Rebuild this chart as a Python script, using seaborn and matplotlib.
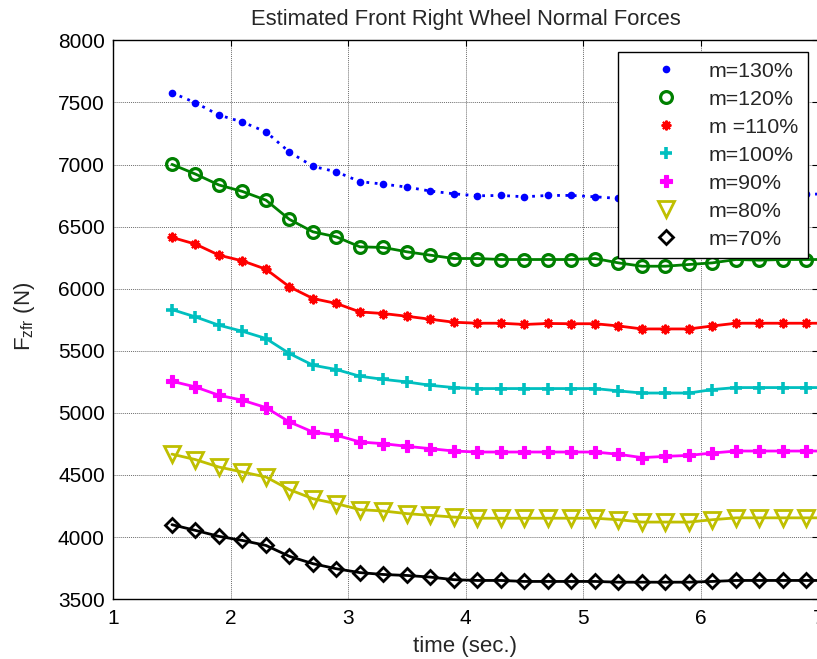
import numpy as np
import pandas as pd
import matplotlib
matplotlib.use("Agg")
import matplotlib.pyplot as plt
from matplotlib.lines import Line2D
import seaborn as sns

# Sample times (s): marker samples every 0.2 s plus the end of the record
t = [1.5, 1.7, 1.9, 2.1, 2.3, 2.5, 2.7, 2.9, 3.1, 3.3, 3.5, 3.7, 3.9, 4.1,
     4.3, 4.5, 4.7, 4.9, 5.1, 5.3, 5.5, 5.7, 5.9, 6.1, 6.3, 6.5, 6.7, 6.9, 7.0]

# Estimated front-right normal force F_zfr (N) for each vehicle mass ratio
m130 = [7578, 7497, 7398, 7342, 7263, 7100, 6985, 6941, 6862, 6842, 6818, 6786,
        6764, 6748, 6751, 6740, 6751, 6751, 6740, 6727, 6712, 6712, 6718, 6735,
        6755, 6755, 6757, 6760, 6762]
m120 = [7001, 6923, 6835, 6783, 6713, 6558, 6458, 6417, 6337, 6332, 6297, 6270,
        6243, 6243, 6235, 6235, 6235, 6235, 6243, 6208, 6181, 6181, 6195, 6208,
        6235, 6230, 6235, 6235, 6235]
m110 = [6413, 6359, 6270, 6224, 6157, 6015, 5921, 5881, 5813, 5800, 5778, 5754,
        5730, 5722, 5722, 5712, 5720, 5718, 5718, 5700, 5676, 5676, 5676, 5700,
        5722, 5722, 5722, 5722, 5722]
m100 = [5832, 5773, 5706, 5657, 5599, 5478, 5384, 5349, 5295, 5270, 5249, 5222,
        5204, 5196, 5196, 5196, 5196, 5196, 5196, 5177, 5160, 5160, 5160, 5188,
        5204, 5204, 5204, 5204, 5204]
m90 = [5255, 5209, 5142, 5102, 5043, 4927, 4846, 4820, 4766, 4752, 4731, 4712,
       4693, 4685, 4685, 4685, 4685, 4685, 4685, 4667, 4640, 4650, 4658, 4677,
       4693, 4693, 4693, 4693, 4693]
m80 = [4668, 4624, 4564, 4524, 4484, 4382, 4309, 4269, 4221, 4210, 4189, 4175,
       4161, 4152, 4152, 4152, 4152, 4152, 4152, 4140, 4121, 4121, 4121, 4140,
       4155, 4155, 4155, 4155, 4155]
m70 = [4100, 4054, 4006, 3973, 3933, 3845, 3786, 3745, 3714, 3699, 3691, 3678,
       3657, 3651, 3651, 3643, 3643, 3643, 3643, 3637, 3637, 3637, 3637, 3643,
       3651, 3651, 3651, 3651, 3651]

labels = ["m=130%", "m=120%", "m =110%", "m=100%", "m=90%", "m=80%", "m=70%"]
x_ticks = [1, 2, 3, 4, 5, 6, 7]
y_ticks = [3500, 4000, 4500, 5000, 5500, 6000, 6500, 7000, 7500, 8000]

df = pd.DataFrame({"t": t, "m130": m130, "m120": m120, "m110": m110,
                   "m100": m100, "m90": m90, "m80": m80, "m70": m70})

sns.set_style("white")
plt.rcParams["font.family"] = ["Liberation Sans", "DejaVu Sans"]
plt.rcParams["mathtext.default"] = "regular"
plt.rcParams["font.size"] = 15

styles = [
    dict(col="m130", color="#0000FF", ls=(0, (1, 2)), marker="o", ms=5.5, mew=0.0, mfc="#0000FF"),
    dict(col="m120", color="#008000", ls="-", marker="o", ms=8.5, mew=2.3, mfc="none"),
    dict(col="m110", color="#FF0000", ls="-", marker=(8, 2, 0), ms=7.0, mew=1.5, mfc="#FF0000"),
    dict(col="m100", color="#00BFBF", ls="-", marker="+", ms=9.0, mew=2.6, mfc="#00BFBF"),
    dict(col="m90", color="#FF00FF", ls="-", marker="P", ms=8.0, mew=0.8, mfc="#FF00FF"),
    dict(col="m80", color="#BFBF00", ls="-", marker="v", ms=11.0, mew=2.0, mfc="none"),
    dict(col="m70", color="#000000", ls="-", marker="D", ms=7.5, mew=2.0, mfc="none"),
]

fig = plt.figure(figsize=(8.17, 6.59), dpi=100)
ax = fig.add_axes([113.2 / 817, 59.8 / 659, 705.0 / 817, 558.9 / 659])

n_marks = len(t) - 1
for s in styles:
    sns.lineplot(data=df, x="t", y=s["col"], ax=ax, color=s["color"],
                 linestyle=s["ls"], linewidth=2.0, marker=s["marker"],
                 markersize=s["ms"], markeredgewidth=s["mew"],
                 markeredgecolor=s["color"], markerfacecolor=s["mfc"],
                 markevery=slice(0, n_marks), estimator=None, legend=False)

ax.set_xlim(1, 7)
ax.set_ylim(3500, 8000)
ax.set_xticks(x_ticks)
ax.set_yticks(y_ticks)
ax.grid(True, color="#6e6e6e", linestyle=(0, (1, 1)), linewidth=0.7)
ax.tick_params(direction="in", length=4, width=0.8, top=True, right=True,
               labelsize=15, colors="black")
ax.tick_params(axis="x", pad=7)
ax.tick_params(axis="y", pad=6)
for sp in ax.spines.values():
    sp.set_color("black")
    sp.set_linewidth(1.0)

ax.set_title("Estimated Front Right Wheel Normal Forces", fontsize=15.8, pad=11)
ax.set_xlabel("time (sec.)", fontsize=16)
ax.set_ylabel("F$_{zfr}$ (N)", fontsize=16)
ax.xaxis.set_label_coords(0.499, -0.066)
ax.yaxis.set_label_coords(-0.108, 0.507)

handles = [Line2D([], [], linestyle="none", marker=s["marker"], color=s["color"],
                  markersize=s["ms"], markeredgewidth=s["mew"],
                  markeredgecolor=s["color"], markerfacecolor=s["mfc"])
           for s in styles]
leg = ax.legend(handles, labels, loc="upper left", bbox_to_anchor=(0.716, 0.979),
                borderaxespad=0, frameon=True, fancybox=False, framealpha=1,
                edgecolor="black", fontsize=15.4, handlelength=3.6,
                handletextpad=0.2, borderpad=0.45, labelspacing=0.42)
leg.get_frame().set_linewidth(1.0)

fig.savefig("out.png", dpi=100)
